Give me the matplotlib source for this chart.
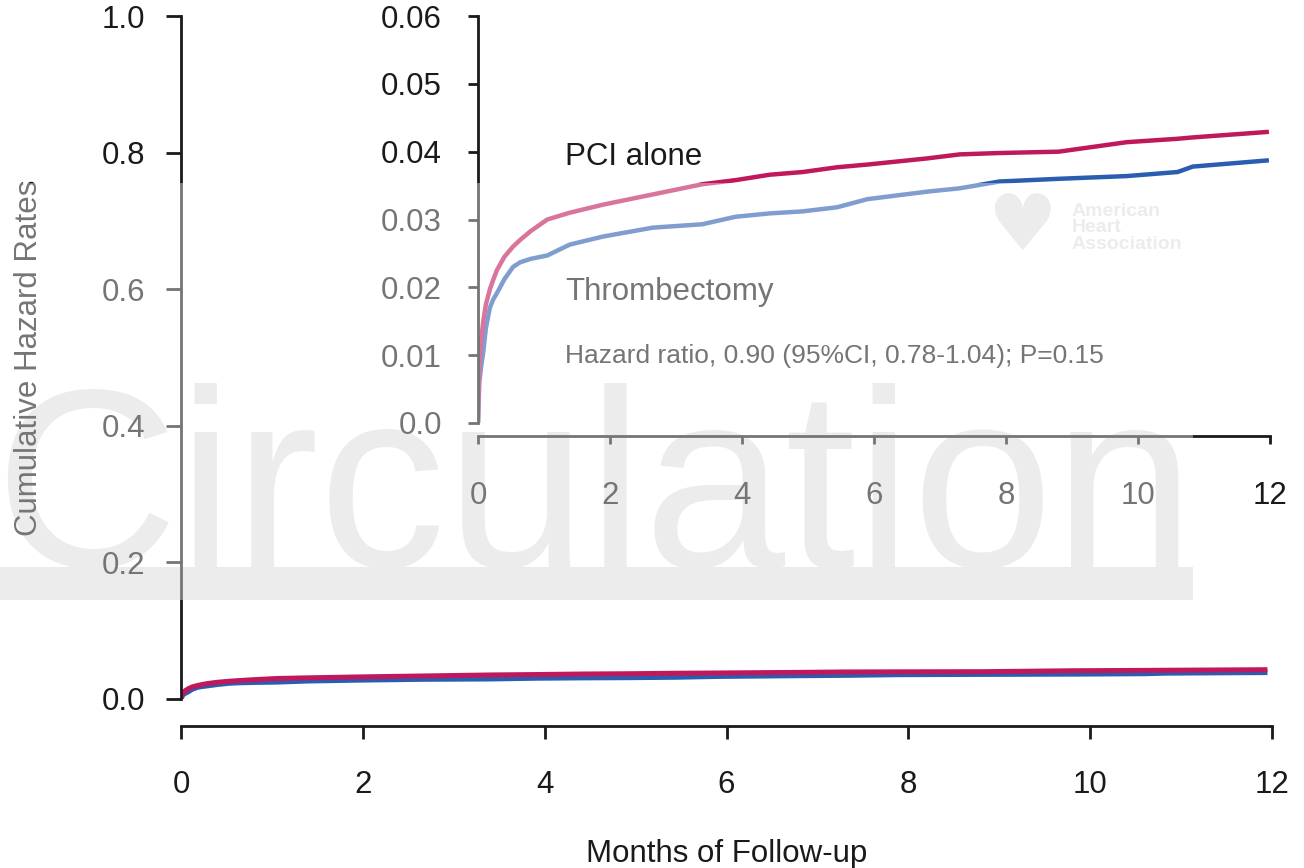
import matplotlib
matplotlib.use("Agg")
import matplotlib.pyplot as plt
from matplotlib.patches import Rectangle

plt.rcParams['font.family'] = ['Liberation Sans', 'DejaVu Sans']

# ---- data ----
months = [0.0, 0.02, 0.05, 0.08, 0.12, 0.18, 0.23, 0.29, 0.4, 0.53, 0.64, 0.8, 1.05,
          1.39, 1.9, 2.65, 3.4, 3.9, 4.42, 4.92, 5.44, 5.9, 6.8, 7.3, 7.9, 8.8,
          9.83, 10.6, 10.83, 11.95]
pci_alone = [0.0, 0.009, 0.0125, 0.0150, 0.0175, 0.0197, 0.0211, 0.0226, 0.0245, 0.0260,
             0.0270, 0.0283, 0.0300, 0.0310, 0.0322, 0.0337, 0.0352, 0.0358, 0.0366, 0.0370,
             0.0377, 0.0381, 0.0390, 0.0396, 0.0398, 0.0400, 0.0414, 0.0419, 0.0421, 0.0429]
thrombectomy = [0.0, 0.006, 0.0085, 0.0105, 0.0140, 0.0170, 0.0182, 0.0192, 0.0212, 0.0230,
                0.0237, 0.0242, 0.0247, 0.0263, 0.0275, 0.0288, 0.0293, 0.0304, 0.0309, 0.0312,
                0.0318, 0.0330, 0.0341, 0.0346, 0.0356, 0.0360, 0.0364, 0.0370, 0.0378, 0.0387]

main_yticks = [0.0, 0.2, 0.4, 0.6, 0.8, 1.0]
main_yticklabels = ['0.0', '0.2', '0.4', '0.6', '0.8', '1.0']
inset_yticks = [0.0, 0.01, 0.02, 0.03, 0.04, 0.05, 0.06]
inset_yticklabels = ['0.0', '0.01', '0.02', '0.03', '0.04', '0.05', '0.06']
xticks = [0, 2, 4, 6, 8, 10, 12]

PCI_COLOR = '#C0185C'
THR_COLOR = '#2A5DB0'
INK = '#1a1a1a'
FS = 22.5

W, H = 1304, 868
fig = plt.figure(figsize=(W / 100, H / 100), dpi=100)

def fx(px):
    return px / W

def fy(py):
    return 1 - py / H

# ---- watermark background (under content) ----
fig.patches.append(Rectangle((0, fy(600)), fx(1193), fy(567) - fy(600),
                             transform=fig.transFigure, facecolor='#dedede',
                             edgecolor='none', zorder=-2))
fig.text(fx(-6), fy(567), 'Circulation', fontsize=183, color='#e0e1e1',
         ha='left', va='baseline', zorder=-1)
fig.text(fx(1072), fy(228), 'American\nHeart\nAssociation', fontsize=14,
         fontweight='bold', color='#e0e0e0', ha='left', va='center',
         linespacing=0.95, zorder=-1)
fig.text(fx(1022), fy(228), '\u2665', fontsize=56, color='#e0e0e0',
         ha='center', va='center', zorder=-1, family=['DejaVu Sans'])

# ---- main axes ----
ax = fig.add_axes([fx(181), fy(699), fx(1272) - fx(181), fy(16) - fy(699)])
ax.set_facecolor('none')
ax.plot(months, thrombectomy, color=THR_COLOR, lw=3.6, solid_capstyle='butt')
ax.plot(months, pci_alone, color=PCI_COLOR, lw=3.6, solid_capstyle='butt')
ax.set_xlim(0, 12)
ax.set_ylim(0, 1.0)
ax.set_yticks(main_yticks)
ax.set_yticklabels(main_yticklabels)
ax.set_xticks(xticks)
for s in ['top', 'right']:
    ax.spines[s].set_visible(False)
for s in ['left', 'bottom']:
    ax.spines[s].set_linewidth(2.0)
    ax.spines[s].set_color(INK)
ax.spines['bottom'].set_position(('outward', 19.5))
ax.tick_params(axis='y', length=10.5, width=2.0, color=INK, labelsize=FS,
               labelcolor=INK, pad=15)
ax.tick_params(axis='x', length=9.5, width=2.0, color=INK, labelsize=FS,
               labelcolor=INK, pad=22)
ax.set_xlabel('Months of Follow-up', fontsize=FS, color=INK, labelpad=28)
ax.set_ylabel('Cumulative Hazard Rates', fontsize=FS, color=INK, labelpad=42)

# ---- inset axes ----
ins = fig.add_axes([fx(478), fy(423), fx(1270) - fx(478), fy(16) - fy(423)])
ins.set_facecolor('none')
ins.plot(months, thrombectomy, color=THR_COLOR, lw=3.2)
ins.plot(months, pci_alone, color=PCI_COLOR, lw=3.2)
ins.set_xlim(0, 12)
ins.set_ylim(0, 0.06)
ins.set_yticks(inset_yticks)
ins.set_yticklabels(inset_yticklabels)
ins.set_xticks(xticks)
for s in ['top', 'right']:
    ins.spines[s].set_visible(False)
for s in ['left', 'bottom']:
    ins.spines[s].set_linewidth(2.0)
    ins.spines[s].set_color(INK)
ins.spines['bottom'].set_position(('outward', 9))
ins.tick_params(axis='y', length=7, width=2.0, color=INK, labelsize=FS,
                labelcolor=INK, pad=19)
ins.tick_params(axis='x', length=6, width=2.0, color=INK, labelsize=FS,
                labelcolor=INK, pad=27)

fig.text(fx(565), fy(157), 'PCI alone', fontsize=FS, color=INK, ha='left', va='center')
fig.text(fx(565), fy(292), 'Thrombectomy', fontsize=FS, color=INK, ha='left', va='center')
fig.text(fx(565), fy(356), 'Hazard ratio, 0.90 (95%CI, 0.78-1.04); P=0.15',
         fontsize=19, color=INK, ha='left', va='center')

# ---- translucent watermark veil on top ----
fig.patches.append(Rectangle((0, fy(600)), fx(1193), fy(183) - fy(600),
                             transform=fig.transFigure, facecolor='white',
                             alpha=0.4, edgecolor='none', zorder=10))

fig.savefig('out.png', dpi=100)
